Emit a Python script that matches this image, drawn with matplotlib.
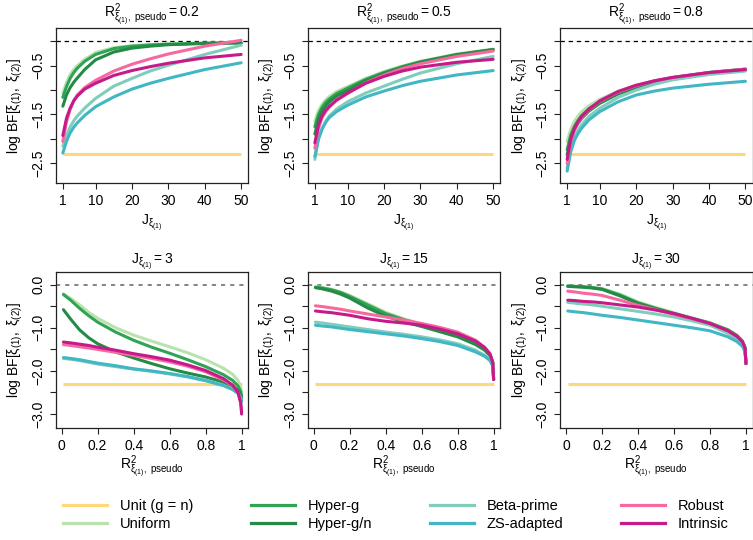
import numpy as np
import matplotlib
matplotlib.use("Agg")
import matplotlib.pyplot as plt
from matplotlib.lines import Line2D

plt.rcParams['font.family'] = ['Liberation Sans', 'DejaVu Sans']
plt.rcParams['mathtext.fontset'] = 'custom'
plt.rcParams['mathtext.rm'] = 'Liberation Sans'
plt.rcParams['mathtext.it'] = 'Liberation Sans:italic'
plt.rcParams['mathtext.bf'] = 'Liberation Sans:bold'
plt.rcParams['mathtext.default'] = 'regular'

# ---------------- data ----------------
series_names = ["Unit (g = n)", "Uniform", "Hyper-g", "Hyper-g/n",
                "Beta-prime", "ZS-adapted", "Robust", "Intrinsic"]
series_colors = ["#FDD97A", "#B9E2AE", "#31A354", "#238B45",
                 "#7FCDBB", "#41B6C4", "#F768A1", "#C51B8A"]

unit_level = -2.303

# top row: x = J
J_values = [1, 2, 3, 4, 5, 7, 10, 15, 20, 25, 30, 40, 50]
top_r2_labels = ["0.2", "0.5", "0.8"]

# R2 = 0.2
top_r2_02 = {
    "Uniform":    [-1.06, -0.85, -0.68, -0.58, -0.50, -0.37, -0.23, -0.13, -0.09, -0.07, -0.05, -0.04, -0.03],
    "Hyper-g":    [-1.15, -0.93, -0.76, -0.64, -0.55, -0.41, -0.27, -0.15, -0.10, -0.075, -0.06, -0.04, -0.03],
    "Hyper-g/n":  [-1.33, -1.10, -0.95, -0.84, -0.75, -0.58, -0.38, -0.22, -0.14, -0.10, -0.07, -0.045, -0.035],
    "Beta-prime": [-2.15, -1.93, -1.76, -1.63, -1.53, -1.37, -1.17, -0.92, -0.76, -0.61, -0.49, -0.27, -0.08],
    "ZS-adapted": [-2.29, -2.05, -1.88, -1.76, -1.67, -1.52, -1.34, -1.14, -0.98, -0.86, -0.76, -0.58, -0.44],
    "Robust":     [-2.05, -1.65, -1.40, -1.22, -1.10, -0.95, -0.80, -0.61, -0.47, -0.36, -0.26, -0.10, 0.02],
    "Intrinsic":  [-1.93, -1.58, -1.37, -1.22, -1.12, -0.98, -0.86, -0.70, -0.60, -0.52, -0.45, -0.34, -0.27],
}
# R2 = 0.5
top_r2_05 = {
    "Uniform":    [-1.64, -1.42, -1.29, -1.20, -1.13, -1.03, -0.93, -0.76, -0.62, -0.51, -0.41, -0.26, -0.16],
    "Hyper-g":    [-1.75, -1.50, -1.35, -1.25, -1.18, -1.07, -0.96, -0.78, -0.64, -0.52, -0.42, -0.27, -0.17],
    "Hyper-g/n":  [-1.90, -1.60, -1.43, -1.32, -1.24, -1.12, -1.01, -0.81, -0.66, -0.54, -0.43, -0.28, -0.17],
    "Beta-prime": [-2.42, -2.00, -1.78, -1.64, -1.53, -1.39, -1.24, -1.06, -0.92, -0.78, -0.65, -0.46, -0.31],
    "ZS-adapted": [-2.36, -2.00, -1.80, -1.66, -1.56, -1.44, -1.31, -1.14, -1.02, -0.91, -0.82, -0.69, -0.60],
    "Robust":     [-2.19, -1.78, -1.56, -1.44, -1.35, -1.21, -1.07, -0.85, -0.69, -0.56, -0.46, -0.31, -0.20],
    "Intrinsic":  [-2.08, -1.72, -1.53, -1.41, -1.33, -1.20, -1.06, -0.86, -0.72, -0.61, -0.53, -0.43, -0.37],
}
# R2 = 0.8
top_r2_08 = {
    "Uniform":    [-2.05, -1.80, -1.64, -1.53, -1.44, -1.32, -1.19, -1.02, -0.90, -0.81, -0.74, -0.64, -0.57],
    "Hyper-g":    [-2.22, -1.92, -1.74, -1.62, -1.52, -1.38, -1.24, -1.06, -0.93, -0.83, -0.75, -0.64, -0.57],
    "Hyper-g/n":  [-2.32, -2.00, -1.81, -1.68, -1.58, -1.43, -1.27, -1.08, -0.95, -0.84, -0.76, -0.65, -0.58],
    "Beta-prime": [-2.60, -2.20, -1.97, -1.82, -1.71, -1.54, -1.37, -1.15, -1.00, -0.88, -0.79, -0.68, -0.61],
    "ZS-adapted": [-2.66, -2.26, -2.03, -1.89, -1.78, -1.61, -1.44, -1.24, -1.10, -1.02, -0.96, -0.88, -0.82],
    "Robust":     [-2.50, -2.05, -1.82, -1.67, -1.56, -1.40, -1.23, -1.04, -0.91, -0.81, -0.74, -0.64, -0.57],
    "Intrinsic":  [-2.42, -2.00, -1.79, -1.65, -1.54, -1.39, -1.22, -1.03, -0.90, -0.81, -0.74, -0.64, -0.58],
}

# bottom row: x = pseudo R2
R2_values = [0.01, 0.05, 0.1, 0.15, 0.2, 0.3, 0.4, 0.5, 0.6, 0.7, 0.8, 0.9, 0.95, 0.98, 0.995, 1.0]
bottom_J_labels = ["3", "15", "30"]

bot_J3 = {
    "Uniform":    [-0.21, -0.32, -0.47, -0.64, -0.78, -1.00, -1.17, -1.31, -1.44, -1.58, -1.74, -1.94, -2.08, -2.22, -2.38, -2.50],
    "Hyper-g":    [-0.23, -0.36, -0.55, -0.72, -0.87, -1.10, -1.29, -1.45, -1.59, -1.74, -1.90, -2.09, -2.22, -2.35, -2.48, -2.60],
    "Hyper-g/n":  [-0.58, -0.80, -1.05, -1.23, -1.37, -1.56, -1.70, -1.83, -1.95, -2.05, -2.14, -2.26, -2.35, -2.45, -2.55, -2.62],
    "Beta-prime": [-1.71, -1.73, -1.76, -1.80, -1.84, -1.90, -1.96, -2.01, -2.07, -2.14, -2.23, -2.34, -2.43, -2.52, -2.62, -2.70],
    "ZS-adapted": [-1.69, -1.71, -1.74, -1.78, -1.82, -1.88, -1.95, -2.00, -2.06, -2.13, -2.22, -2.34, -2.43, -2.52, -2.62, -2.70],
    "Robust":     [-1.39, -1.41, -1.44, -1.47, -1.50, -1.57, -1.64, -1.71, -1.79, -1.89, -2.02, -2.21, -2.35, -2.50, -2.72, -2.95],
    "Intrinsic":  [-1.33, -1.35, -1.38, -1.41, -1.45, -1.52, -1.60, -1.67, -1.75, -1.86, -1.99, -2.18, -2.33, -2.50, -2.75, -3.00],
}
bot_J15 = {
    "Uniform":    [-0.05, -0.07, -0.11, -0.17, -0.25, -0.44, -0.64, -0.79, -0.92, -1.04, -1.17, -1.34, -1.48, -1.62, -1.80, -2.20],
    "Hyper-g":    [-0.06, -0.08, -0.12, -0.18, -0.27, -0.47, -0.67, -0.81, -0.93, -1.05, -1.18, -1.35, -1.49, -1.63, -1.80, -2.20],
    "Hyper-g/n":  [-0.07, -0.10, -0.15, -0.22, -0.31, -0.54, -0.73, -0.86, -0.97, -1.09, -1.21, -1.39, -1.52, -1.65, -1.82, -2.20],
    "Beta-prime": [-0.87, -0.89, -0.92, -0.95, -0.98, -1.04, -1.10, -1.15, -1.21, -1.28, -1.37, -1.52, -1.64, -1.75, -1.88, -2.05],
    "ZS-adapted": [-0.94, -0.96, -0.98, -1.01, -1.04, -1.09, -1.14, -1.19, -1.25, -1.32, -1.41, -1.56, -1.66, -1.76, -1.88, -2.05],
    "Robust":     [-0.49, -0.51, -0.54, -0.57, -0.61, -0.68, -0.75, -0.82, -0.90, -0.99, -1.10, -1.29, -1.45, -1.60, -1.80, -2.20],
    "Intrinsic":  [-0.61, -0.63, -0.65, -0.68, -0.71, -0.79, -0.85, -0.89, -0.94, -1.03, -1.14, -1.31, -1.46, -1.61, -1.80, -2.20],
}
bot_J30 = {
    "Uniform":    [-0.03, -0.04, -0.05, -0.07, -0.09, -0.22, -0.40, -0.53, -0.65, -0.77, -0.88, -1.04, -1.17, -1.30, -1.45, -1.83],
    "Hyper-g":    [-0.03, -0.04, -0.05, -0.07, -0.10, -0.24, -0.42, -0.55, -0.67, -0.78, -0.89, -1.05, -1.18, -1.31, -1.46, -1.83],
    "Hyper-g/n":  [-0.04, -0.05, -0.06, -0.08, -0.11, -0.26, -0.44, -0.56, -0.67, -0.79, -0.90, -1.06, -1.19, -1.32, -1.47, -1.83],
    "Beta-prime": [-0.41, -0.43, -0.45, -0.47, -0.50, -0.56, -0.62, -0.68, -0.75, -0.84, -0.94, -1.13, -1.26, -1.38, -1.52, -1.80],
    "ZS-adapted": [-0.61, -0.63, -0.65, -0.68, -0.71, -0.76, -0.82, -0.88, -0.94, -1.00, -1.07, -1.21, -1.32, -1.43, -1.55, -1.80],
    "Robust":     [-0.15, -0.17, -0.20, -0.22, -0.25, -0.36, -0.48, -0.58, -0.69, -0.79, -0.90, -1.07, -1.20, -1.32, -1.47, -1.83],
    "Intrinsic":  [-0.36, -0.37, -0.39, -0.40, -0.42, -0.47, -0.52, -0.59, -0.67, -0.78, -0.90, -1.07, -1.20, -1.32, -1.47, -1.83],
}

top_x_ticks = [1, 10, 20, 30, 40, 50]
bot_x_ticks = [0, 0.2, 0.4, 0.6, 0.8, 1]
bot_x_ticklabels = ["0", "0.2", "0.4", "0.6", "0.8", "1"]

# ---------------- figure ----------------
W, H = 753, 540
fig = plt.figure(figsize=(W / 100, H / 100), dpi=100)

def px_axes(left, top, right, bottom):
    return fig.add_axes([left / W, 1 - bottom / H, (right - left) / W, (bottom - top) / H])

lefts = [55.7, 307.7, 560.0]
width = 192.6
ylab = r'$log\ BF[\xi_{(1)},\ \xi_{(2)}]$'
lw = 2.2
FS = 10

def style_axes(ax):
    for s in ax.spines.values():
        s.set_color('#222222')
        s.set_linewidth(0.9)
    ax.tick_params(axis='both', direction='out', length=4.5, width=0.8,
                   colors='#222222', labelcolor='black', labelsize=FS)
    ax.tick_params(axis='x', pad=3.5)
    ax.tick_params(axis='y', pad=3.2, labelrotation=90)
    for lab in ax.get_yticklabels():
        lab.set_va('center')

top_data = [top_r2_02, top_r2_05, top_r2_08]
for i in range(3):
    ax = px_axes(lefts[i], 28.3, lefts[i] + width, 183.3)
    d = top_data[i]
    ax.axhline(0, color='black', lw=0.9, ls=(0, (3.5, 3.0)), zorder=1)
    ax.plot(J_values, [unit_level] * len(J_values), color=series_colors[0], lw=lw,
            solid_capstyle='butt', zorder=2)
    for name, col in zip(series_names[1:], series_colors[1:]):
        ax.plot(J_values, d[name], color=col, lw=lw, solid_capstyle='round', zorder=3)
    ax.set_xlim(-0.96, 51.96)
    ax.set_ylim(-2.91, 0.266)
    ax.set_xticks(top_x_ticks)
    ax.set_yticks([-2.5, -2.0, -1.5, -1.0, -0.5, 0.0])
    ax.set_yticklabels(["\u22122.5", "", "\u22121.5", "", "\u22120.5", ""])
    ax.set_xlabel(r'$J_{\xi_{(1)}}$', fontsize=FS, labelpad=3)
    ax.set_ylabel(ylab, fontsize=FS, labelpad=4)
    ax.set_title(r'$R^2_{\xi_{(1)},\ pseudo} = %s$' % top_r2_labels[i], fontsize=FS, pad=4)
    style_axes(ax)

bot_data = [bot_J3, bot_J15, bot_J30]
for i in range(3):
    ax = px_axes(lefts[i], 271.7, lefts[i] + width, 428.3)
    d = bot_data[i]
    ax.axhline(0, color='#707070', lw=1.2, ls=(0, (2.5, 3.0)), zorder=1)
    ax.plot(R2_values, [unit_level] * len(R2_values), color=series_colors[0], lw=lw,
            solid_capstyle='butt', zorder=2)
    for name, col in zip(series_names[1:], series_colors[1:]):
        ax.plot(R2_values, d[name], color=col, lw=lw, solid_capstyle='round', zorder=3)
    ax.set_xlim(-0.033, 1.037)
    ax.set_ylim(-3.33, 0.30)
    ax.set_xticks(bot_x_ticks)
    ax.set_xticklabels(bot_x_ticklabels)
    ax.set_yticks([-3.0, -2.5, -2.0, -1.5, -1.0, -0.5, 0.0])
    ax.set_yticklabels(["\u22123.0", "", "\u22122.0", "", "\u22121.0", "", "0.0"])
    ax.set_xlabel(r'$R^2_{\xi_{(1)},\ pseudo}$', fontsize=FS, labelpad=0)
    ax.set_ylabel(ylab, fontsize=FS, labelpad=4)
    ax.set_title(r'$J_{\xi_{(1)}} = %s$' % bottom_J_labels[i], fontsize=FS, pad=4)
    style_axes(ax)

handles = [Line2D([], [], color=c, lw=2.3) for c in series_colors]
fig.legend(handles, series_names, ncol=4, loc='center left',
           bbox_to_anchor=(63 / W, 1 - 515 / H), frameon=False, fontsize=10.5,
           handlelength=3.0, handletextpad=0.9, columnspacing=3.95,
           labelspacing=0.25, borderpad=0, borderaxespad=0)

fig.savefig("out.png", dpi=100)
